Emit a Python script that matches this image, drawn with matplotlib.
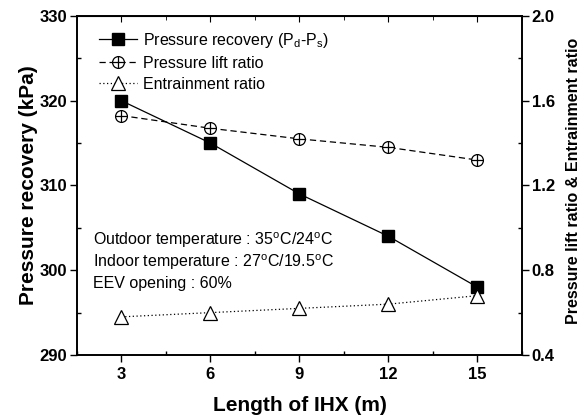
import matplotlib.pyplot as plt
import numpy as np
from matplotlib.ticker import MultipleLocator

plt.rcParams['font.family'] = ['Liberation Sans', 'DejaVu Sans']
plt.rcParams['mathtext.fontset'] = 'custom'
plt.rcParams['mathtext.rm'] = 'Liberation Sans'
plt.rcParams['mathtext.it'] = 'Liberation Sans:italic'
plt.rcParams['mathtext.bf'] = 'Liberation Sans:bold'

length_ihx = [3, 6, 9, 12, 15]
pressure_recovery = [320, 315, 309, 304, 298]
pressure_lift = [1.53, 1.47, 1.42, 1.38, 1.32]
entrainment = [0.58, 0.60, 0.62, 0.64, 0.68]

fig = plt.figure(figsize=(5.85, 4.2), dpi=100)
ax = fig.add_axes([0.1316, 0.1548, 0.7607, 0.8071])
ax2 = ax.twinx()

l1, = ax.plot(length_ihx, pressure_recovery, color='black', lw=0.9, marker='s',
              markersize=8, markerfacecolor='black')
l2, = ax2.plot(length_ihx, pressure_lift, color='black', lw=0.9, ls=(0, (5, 3)),
               marker='o', markersize=8.5, markerfacecolor='white', markeredgewidth=0.9)
p2, = ax2.plot(length_ihx, pressure_lift, ls='none', marker='+', markersize=8.5,
               color='black', markeredgewidth=0.9)
l3, = ax2.plot(length_ihx, entrainment, color='black', lw=0.9, ls=(0, (1, 2)),
               marker='^', markersize=10, markerfacecolor='white', markeredgewidth=0.9)

ax.set_xlim(1.5, 16.5)
ax.set_ylim(290, 330)
ax2.set_ylim(0.4, 2.0)
ax.set_xticks(length_ihx)
ax.xaxis.set_minor_locator(MultipleLocator(1.5))
ax.yaxis.set_major_locator(MultipleLocator(10))
ax.yaxis.set_minor_locator(MultipleLocator(5))
ax2.yaxis.set_major_locator(MultipleLocator(0.4))
ax2.yaxis.set_minor_locator(MultipleLocator(0.2))
ax2.set_yticklabels(['%.1f' % v for v in ax2.get_yticks()])

for a in (ax, ax2):
    a.tick_params(which='major', direction='out', length=5, width=1,
                  labelsize=12, pad=2)
    a.tick_params(which='minor', direction='in', length=3, width=1)
    for sp in a.spines.values():
        sp.set_linewidth(1.2)
    for lab in a.get_xticklabels() + a.get_yticklabels():
        lab.set_fontweight('bold')
ax.tick_params(axis='x', which='major', pad=4)

top = ax.secondary_xaxis('top')
top.set_xticks(length_ihx)
top.xaxis.set_minor_locator(MultipleLocator(1.5))
top.tick_params(which='major', direction='in', length=4, labeltop=False)
top.tick_params(which='minor', direction='in', length=3)

ax.set_xlabel('Length of IHX (m)', fontsize=15, fontweight='bold', labelpad=10)
ax.set_ylabel('Pressure recovery (kPa)', fontsize=15, fontweight='bold', labelpad=1)
ax2.set_ylabel('Pressure lift ratio & Entrainment ratio', fontsize=11.5,
               fontweight='bold')
ax2.yaxis.set_label_coords(1.098, 0.515)

ax2.legend([l1, (l2, p2), l3],
           [r'Pressure recovery (P$_\mathregular{d}$-P$_\mathregular{s}$)',
            'Pressure lift ratio', 'Entrainment ratio'],
           loc='upper left', bbox_to_anchor=(0.027, 0.985), frameon=False,
           fontsize=11.5, handlelength=2.4, handletextpad=0.35, labelspacing=0.38,
           borderaxespad=0.2)

ax.text(0.035, 0.339, r'Outdoor temperature : 35$^\mathregular{o}$C/24$^\mathregular{o}$C',
        transform=ax.transAxes, fontsize=11.5, va='center')
ax.text(0.035, 0.274, r'Indoor temperature : 27$^\mathregular{o}$C/19.5$^\mathregular{o}$C',
        transform=ax.transAxes, fontsize=11.5, va='center')
ax.text(0.035, 0.212, 'EEV opening : 60%', transform=ax.transAxes, fontsize=11.5,
        va='center')

fig.savefig('out.png', dpi=100)
